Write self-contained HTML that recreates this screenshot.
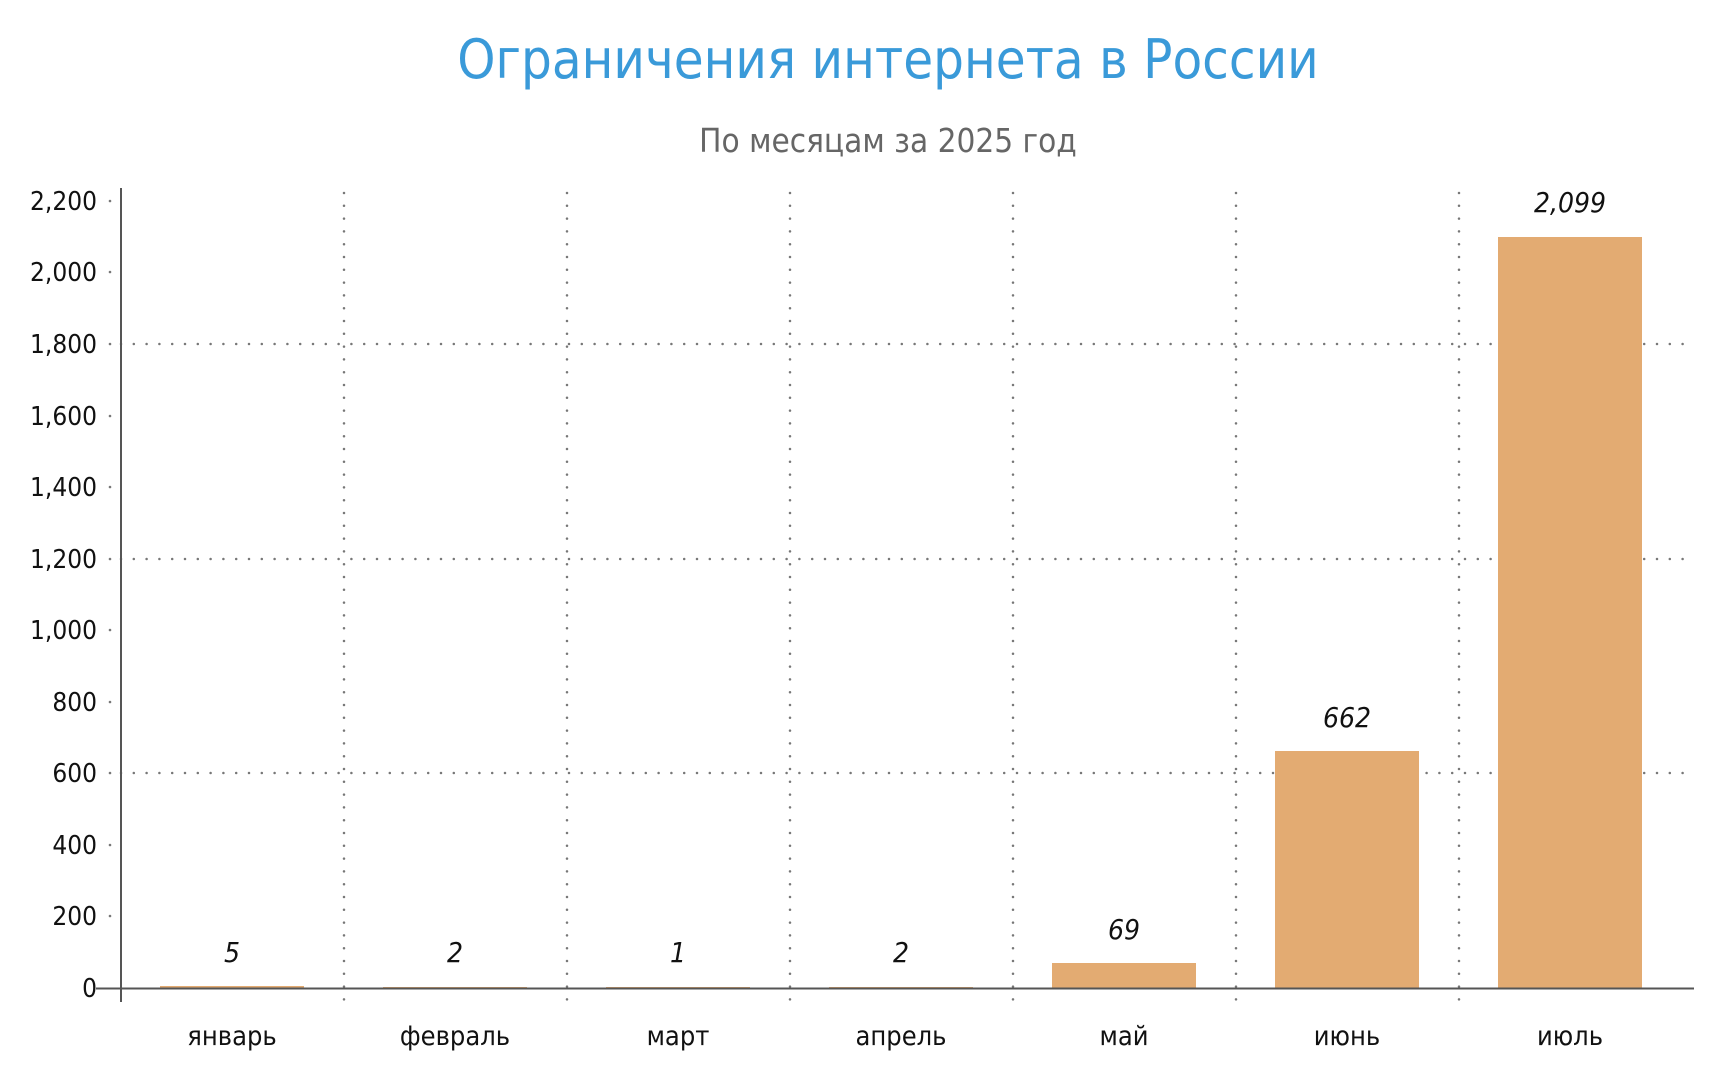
<!DOCTYPE html>
<html><head><meta charset="utf-8"><style>
html,body{margin:0;padding:0;background:#fff;}
svg{display:block;}
text{font-family:"Liberation Sans Narrow","DejaVu Sans Condensed","Liberation Sans",sans-serif;}
</style></head><body>
<svg width="1732" height="1081" viewBox="0 0 1732 1081" xmlns="http://www.w3.org/2000/svg">
<text x="888" y="78" text-anchor="middle" font-size="54" fill="#3a9ad9">Ограничения интернета в России</text>
<text x="888" y="152" text-anchor="middle" font-size="33" fill="#666">По месяцам за 2025 год</text>
<g stroke="#777" stroke-width="2.5" stroke-dasharray="0 12.8" stroke-linecap="round">
<line x1="121" y1="344" x2="1690" y2="344"/>
<line x1="121" y1="559" x2="1690" y2="559"/>
<line x1="121" y1="773" x2="1690" y2="773"/>
<line x1="344" y1="193" x2="344" y2="1005"/>
<line x1="567" y1="193" x2="567" y2="1005"/>
<line x1="790" y1="193" x2="790" y2="1005"/>
<line x1="1013" y1="193" x2="1013" y2="1005"/>
<line x1="1236" y1="193" x2="1236" y2="1005"/>
<line x1="1459" y1="193" x2="1459" y2="1005"/>
</g>
<g fill="#777">
<circle cx="110" cy="201" r="1.3"/><circle cx="110" cy="272" r="1.3"/><circle cx="110" cy="344" r="1.3"/><circle cx="110" cy="416" r="1.3"/><circle cx="110" cy="487" r="1.3"/><circle cx="110" cy="559" r="1.3"/><circle cx="110" cy="630" r="1.3"/><circle cx="110" cy="702" r="1.3"/><circle cx="110" cy="773" r="1.3"/><circle cx="110" cy="845" r="1.3"/><circle cx="110" cy="916" r="1.3"/>
</g>
<g fill="#e3ab72">
<rect x="160" y="986" width="144" height="2"/>
<rect x="383" y="987" width="144" height="1"/>
<rect x="606" y="987" width="144" height="1"/>
<rect x="829" y="987" width="144" height="1"/>
<rect x="1052" y="963" width="144" height="25"/>
<rect x="1275" y="751" width="144" height="237"/>
<rect x="1498" y="237" width="144" height="751"/>
</g>
<line x1="121" y1="188" x2="121" y2="1002" stroke="#555" stroke-width="2"/>
<line x1="96" y1="988.5" x2="1694" y2="988.5" stroke="#555" stroke-width="2"/>
<g font-size="26" fill="#111" text-anchor="end">
<text x="97" y="210">2,200</text><text x="97" y="281">2,000</text><text x="97" y="353">1,800</text><text x="97" y="425">1,600</text><text x="97" y="496">1,400</text><text x="97" y="568">1,200</text><text x="97" y="639">1,000</text><text x="97" y="711">800</text><text x="97" y="782">600</text><text x="97" y="854">400</text><text x="97" y="925">200</text><text x="97" y="997">0</text>
</g>
<g font-size="28" fill="#111" text-anchor="middle" font-style="italic">
<text x="232" y="962">5</text><text x="455" y="962">2</text><text x="678" y="962">1</text><text x="901" y="962">2</text><text x="1124" y="939">69</text><text x="1347" y="727">662</text><text x="1570" y="212">2,099</text>
</g>
<g font-size="27" fill="#111" text-anchor="middle">
<text x="232" y="1045">январь</text><text x="455" y="1045">февраль</text><text x="678" y="1045">март</text><text x="901" y="1045">апрель</text><text x="1124" y="1045">май</text><text x="1347" y="1045">июнь</text><text x="1570" y="1045">июль</text>
</g>
</svg>
</body></html>
